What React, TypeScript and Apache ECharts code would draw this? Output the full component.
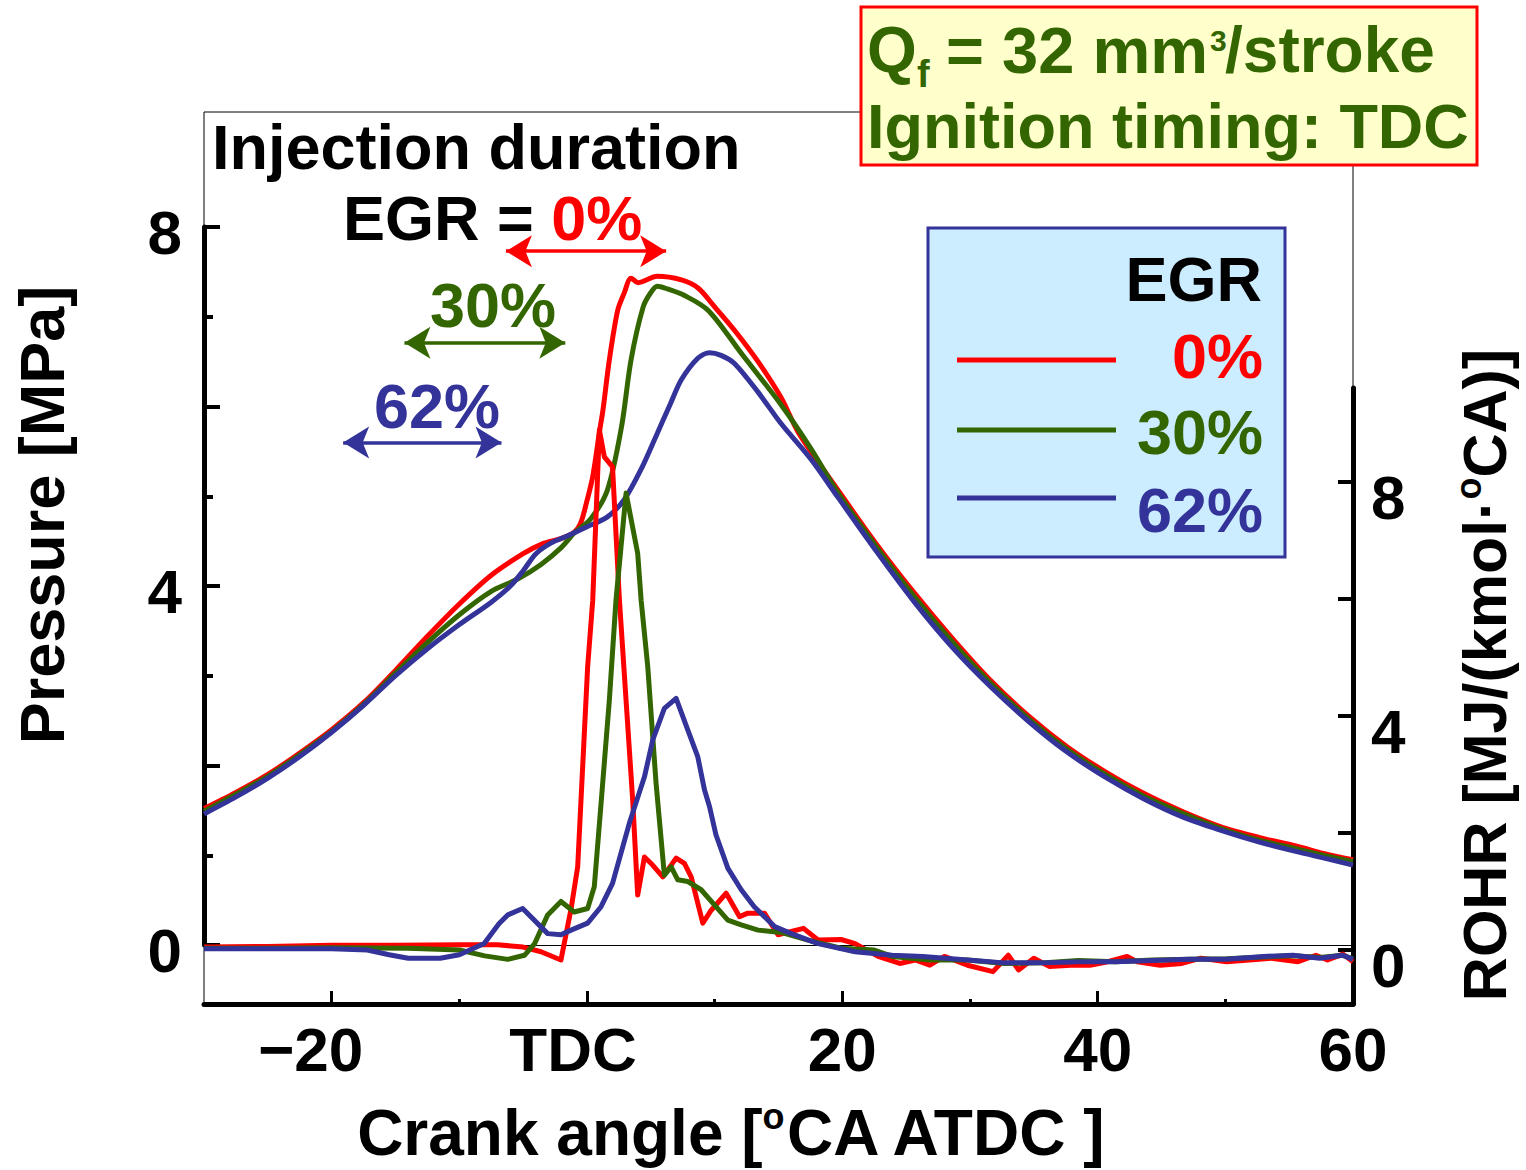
import React, { useEffect, useRef } from 'react';
import * as echarts from 'echarts';

// ---------- data ----------
const X_MIN = -30;
const X_MAX = 60;

// Cylinder pressure [MPa] vs crank angle [deg ATDC]
const pressure0: [number, number][] = [
  [-30, 1.52], [-27.5, 1.7], [-25, 1.9], [-22.5, 2.14], [-20, 2.4], [-17.5, 2.7], [-15, 3.06], [-12.5, 3.44],
  [-10, 3.8], [-7.5, 4.12], [-5, 4.36], [-3.5, 4.47], [-2, 4.53], [-1, 4.6], [-0.5, 4.7], [0, 4.95], [0.45, 5.22],
  [1.0, 5.74], [1.25, 5.96], [1.75, 6.52], [2.4, 7.07], [2.9, 7.26], [3.45, 7.43], [4.0, 7.38], [5.5, 7.45],
  [7.4, 7.41], [8.7, 7.32], [10.0, 7.11], [11.55, 6.85], [13.4, 6.5], [15.2, 6.1], [16.6, 5.7], [19.65, 5.07],
  [22.6, 4.48], [25.65, 3.92], [28.6, 3.42], [31.6, 2.95], [34.6, 2.55], [37.6, 2.21], [40.6, 1.93], [43.6, 1.69],
  [46.6, 1.49], [49.6, 1.32], [52.6, 1.2], [55.6, 1.1], [58, 1.01], [60, 0.95],
];
const pressure30: [number, number][] = [
  [-30, 1.49], [-27.5, 1.68], [-25, 1.88], [-22.5, 2.12], [-20, 2.38], [-17.5, 2.68], [-15, 3.03], [-12.5, 3.37],
  [-10, 3.68], [-7.5, 3.94], [-5.4, 4.08], [-3.6, 4.24], [-2, 4.43], [-1, 4.59], [0.3, 4.75], [1.6, 5.07],
  [2.7, 5.77], [3.45, 6.52], [4.4, 7.11], [5.0, 7.27], [5.5, 7.34], [6.3, 7.31], [7.6, 7.24], [9.5, 7.07],
  [12.1, 6.59], [15.2, 6.02], [17.5, 5.54], [19.65, 5.04], [22.6, 4.45], [25.65, 3.88], [28.6, 3.38], [31.6, 2.92],
  [34.6, 2.52], [37.6, 2.18], [40.6, 1.9], [43.6, 1.66], [46.6, 1.47], [49.6, 1.3], [52.6, 1.17], [55.6, 1.07],
  [58, 0.99], [60, 0.93],
];
const pressure62: [number, number][] = [
  [-30, 1.46], [-27.5, 1.65], [-25, 1.86], [-22.5, 2.1], [-20, 2.37], [-17.5, 2.67], [-15, 3.0], [-12.5, 3.3],
  [-10, 3.57], [-7.5, 3.82], [-6, 4.0], [-5, 4.17], [-4, 4.36], [-2.8, 4.48], [-1.5, 4.56], [0, 4.66], [1.6, 4.77],
  [2.9, 4.96], [4.2, 5.29], [5.5, 5.7], [6.5, 6.02], [7.4, 6.3], [8.7, 6.54], [9.6, 6.6], [10.5, 6.57],
  [11.55, 6.48], [13.4, 6.16], [15.2, 5.81], [17.5, 5.42], [19.65, 4.99], [22.6, 4.4], [25.65, 3.82], [28.6, 3.32],
  [31.6, 2.88], [34.6, 2.49], [37.6, 2.15], [40.6, 1.87], [43.6, 1.63], [46.6, 1.43], [49.6, 1.28], [52.6, 1.15],
  [55.6, 1.04], [58, 0.96], [60, 0.89],
];

// Rate of heat release [MJ/(kmol·°CA)]
const rohr0: [number, number][] = [
  [-30, 0.05], [-25, 0.06], [-20, 0.08], [-15, 0.08], [-10, 0.09], [-7, 0.09], [-5, 0.05], [-3.6, -0.03],
  [-2.04, -0.17], [-1.25, 0.7], [-0.73, 1.42], [-0.34, 3.13], [0.05, 4.84], [0.45, 5.98], [0.97, 8.89],
  [1.36, 8.43], [2.0, 8.26], [2.54, 5.98], [3.06, 4.27], [3.58, 2.56], [3.97, 0.94], [4.5, 1.59], [5.02, 1.48],
  [5.94, 1.25], [6.98, 1.57], [7.63, 1.48], [8.16, 1.25], [9.07, 0.46], [9.73, 0.68], [10.9, 0.97], [11.95, 0.57],
  [12.6, 0.63], [13.9, 0.63], [14.96, 0.26], [16.96, 0.37], [18.1, 0.17], [19.9, 0.18], [21.0, 0.11],
  [22.8, -0.11], [24.5, -0.23], [25.7, -0.17], [26.85, -0.26], [28.0, -0.11], [29.8, -0.26], [31.8, -0.37],
  [33.0, -0.09], [33.8, -0.34], [35.0, -0.14], [36.2, -0.28], [37.9, -0.26], [39.4, -0.26], [40.8, -0.2],
  [42.3, -0.11], [43.1, -0.2], [44.9, -0.26], [46.6, -0.23], [48.1, -0.14], [50.1, -0.2], [51.9, -0.17],
  [53.6, -0.14], [55.7, -0.2], [57.1, -0.09], [58.0, -0.17], [59.2, -0.07], [60, -0.2],
];
const rohr30: [number, number][] = [
  [-30, 0.03], [-25, 0.03], [-20, 0.04], [-14, 0.03], [-10, 0.0], [-8, -0.1], [-6.2, -0.16], [-4.9, -0.09],
  [-4.1, 0.11], [-3.08, 0.6], [-2.04, 0.83], [-1.0, 0.65], [0.05, 0.71], [0.57, 1.08], [1.1, 2.5], [1.75, 4.27],
  [2.27, 5.98], [3.06, 7.81], [3.97, 6.78], [4.24, 5.98], [4.76, 4.84], [5.41, 2.85], [6.06, 1.28], [6.59, 1.42],
  [7.11, 1.2], [7.9, 1.17], [8.94, 1.03], [9.86, 0.8], [11.03, 0.51], [12.08, 0.43], [13.4, 0.34], [15.2, 0.3],
  [17.3, 0.17], [19.9, 0.03], [22.5, 0.0], [23.9, -0.11], [26.85, -0.17], [29.8, -0.17], [32.7, -0.23],
  [35.6, -0.22], [38.5, -0.18], [41.4, -0.2], [44.3, -0.17], [47.2, -0.16], [50.1, -0.15], [53.0, -0.12],
  [55.3, -0.1], [57.4, -0.13], [59.2, -0.09], [60, -0.15],
];
const rohr62: [number, number][] = [
  [-30, 0.02], [-25, 0.02], [-20, 0.02], [-17.2, 0.0], [-15.5, -0.08], [-14, -0.14], [-11.5, -0.14], [-10, -0.08],
  [-8.05, 0.11], [-6.9, 0.45], [-6.2, 0.6], [-5.04, 0.71], [-3.08, 0.28], [-2.04, 0.26], [-1.25, 0.34],
  [0.05, 0.46], [1.1, 0.74], [2.0, 1.14], [3.32, 2.17], [4.5, 2.96], [5.15, 3.59], [6.06, 4.13], [6.98, 4.3],
  [7.9, 3.76], [8.68, 3.3], [9.2, 2.74], [9.6, 2.45], [10.1, 1.97], [11.03, 1.4], [12.08, 1.03], [13.1, 0.74],
  [14.7, 0.4], [16.0, 0.28], [18.1, 0.11], [21.0, -0.03], [23.9, -0.09], [26.3, -0.11], [29.8, -0.17],
  [32.7, -0.22], [35.6, -0.22], [38.5, -0.2], [41.4, -0.2], [44.3, -0.18], [47.2, -0.16], [50.1, -0.16],
  [53.0, -0.11], [55.3, -0.09], [57.4, -0.14], [59.2, -0.09], [60, -0.16],
];

const egrLabels = ['0%', '30%', '62%'];
// injection duration windows (deg) for each EGR rate
const injectionStart = [-6.35, -14.3, -19.1];
const injectionEnd = [6.2, -1.7, -6.7];

// tick values
const xMajorTicks = [-20, 0, 20, 40];
const xMinorTicks = [-10, 10, 30, 50];
const xLabelValues = [-20, 0, 20, 40, 60];
const pMajorTicks = [0, 2, 4, 6, 8];
const pMinorTicks = [1, 3, 5, 7];
const pLabelValues = [0, 4, 8];
const rTicks = [0, 2, 4, 6, 8];
const rLabelValues = [0, 4, 8];

// ---------- styles ----------
const COLORS = ['#FF0000', '#336600', '#333399'];
const FONT = "'Liberation Sans', Arial, Helvetica, sans-serif";
const ARROW_LEVELS = [7.73, 6.71, 5.6]; // MPa, annotation heights

const boldFont = (size: number) => `bold ${size}px ${FONT}`;

const txt = (x: number, y: number, text: string, size: number, fill: string, align: string, extra: any = {}, lineHeight?: number) => ({
  type: 'text',
  z: 101,
  style: {
    x, y, text, font: boldFont(size), fill,
    align, verticalAlign: 'middle', textAlign: align, textVerticalAlign: 'middle',
    ...(lineHeight ? { lineHeight } : {}),
  },
  ...extra,
});

export default function App() {
  const ref = useRef<HTMLDivElement>(null);

  useEffect(() => {
    if (!ref.current) return;
    const chart = echarts.init(ref.current, undefined, { renderer: 'svg' });

    const left = 204;
    const right = 1526 - 1353;
    const bottom = 1170 - 1004;

    const labelBase = { fontSize: 62, fontWeight: 'bold' as const, fontFamily: FONT, color: '#000' };

    const pressures = [pressure0, pressure30, pressure62];
    const rohrs = [rohr0, rohr30, rohr62];

    const pressureSeries = pressures.map((d, i) => ({
      type: 'line',
      name: 'P ' + egrLabels[i],
      xAxisIndex: 2,
      yAxisIndex: 0,
      data: d,
      showSymbol: false,
      smooth: 0.3,
      lineStyle: { color: COLORS[i], width: 5 },
      itemStyle: { color: COLORS[i] },
      emphasis: { disabled: true },
      z: 3,
      markLine: {
        silent: true,
        symbol: ['arrow', 'arrow'],
        symbolSize: [24, 26],
        label: { show: false },
        emphasis: { disabled: true },
        lineStyle: { color: COLORS[i], width: 3.5, type: 'solid' },
        data: [[{ coord: [injectionStart[i], ARROW_LEVELS[i]] }, { coord: [injectionEnd[i], ARROW_LEVELS[i]] }]],
      },
    }));

    const rohrSeries = rohrs.map((d, i) => ({
      type: 'line',
      name: 'ROHR ' + egrLabels[i],
      xAxisIndex: 3,
      yAxisIndex: 2,
      data: d,
      showSymbol: false,
      lineStyle: { color: COLORS[i], width: 5, join: 'round' },
      itemStyle: { color: COLORS[i] },
      emphasis: { disabled: true },
      z: 3,
    }));

    const legendYs = [360, 430, 498];
    const legendTextYs = [356, 432, 510];
    const GREEN = COLORS[1];

    const graphic: any[] = [
      // Condition box
      {
        type: 'rect', z: 100,
        shape: { x: 861, y: 7, width: 616, height: 158 },
        style: { fill: '#FFFFCC', stroke: '#FF0000', lineWidth: 3 },
      },
      txt(867, 50, 'Q', 64, GREEN, 'left'),
      txt(917, 74, 'f', 38, GREEN, 'left'),
      txt(946, 50, '= 32 mm', 65, GREEN, 'left'),
      txt(1210, 40, '3', 30, GREEN, 'left'),
      txt(1225, 50, '/stroke', 64, GREEN, 'left'),
      txt(867, 126, 'Ignition timing: TDC', 63, GREEN, 'left'),
      // Legend box
      {
        type: 'rect', z: 100,
        shape: { x: 928, y: 228, width: 357, height: 329 },
        style: { fill: '#CCECFF', stroke: '#333399', lineWidth: 3 },
      },
      txt(1262, 279, 'EGR', 63, '#000', 'right'),
      ...egrLabels.flatMap((lab, i) => [
        {
          type: 'line', z: 101,
          shape: { x1: 957, y1: legendYs[i], x2: 1116, y2: legendYs[i] },
          style: { stroke: COLORS[i], lineWidth: 5 },
        },
        txt(1263, legendTextYs[i], lab, 63, COLORS[i], 'right'),
      ]),
      // Injection duration annotation
      txt(212, 147, 'Injection duration', 63, '#000', 'left', {}, 62),
      {
        type: 'text', z: 101,
        style: {
          x: 343, y: 218, text: '{k|EGR = }{r|0%}',
          align: 'left', verticalAlign: 'middle', textAlign: 'left', textVerticalAlign: 'middle',
          rich: {
            k: { fontSize: 63, fontWeight: 'bold', fontFamily: FONT, fill: '#000', lineHeight: 62 },
            r: { fontSize: 63, fontWeight: 'bold', fontFamily: FONT, fill: COLORS[0], lineHeight: 62 },
          },
        },
      },
      txt(493, 305, '30%', 63, COLORS[1], 'center', {}, 60),
      txt(437, 406, '62%', 63, COLORS[2], 'center', {}, 60),
      // Axis titles
      txt(0, 0, 'Pressure [MPa]', 63, '#000', 'center', { x: 42, y: 515, rotation: Math.PI / 2 }),
      {
        type: 'text', z: 101, x: 1485, y: 675, rotation: Math.PI / 2,
        style: {
          x: 0, y: 0, text: '{m|ROHR [MJ/(kmol·}{s|o}{m|CA)]}',
          align: 'center', verticalAlign: 'middle', textAlign: 'center', textVerticalAlign: 'middle',
          rich: {
            m: { fontSize: 61, fontWeight: 'bold', fontFamily: FONT, fill: '#000', lineHeight: 70 },
            s: { fontSize: 36, fontWeight: 'bold', fontFamily: FONT, fill: '#000', lineHeight: 50, verticalAlign: 'top' },
          },
        },
      },
      {
        type: 'text', z: 101, x: 732, y: 1133,
        style: {
          x: 0, y: 0, text: '{m|Crank angle [}{s|o}{m|CA ATDC ]}',
          align: 'center', verticalAlign: 'middle', textAlign: 'center', textVerticalAlign: 'middle',
          rich: {
            m: { fontSize: 64, fontWeight: 'bold', fontFamily: FONT, fill: '#000', lineHeight: 70 },
            s: { fontSize: 36, fontWeight: 'bold', fontFamily: FONT, fill: '#000', lineHeight: 50, verticalAlign: 'top' },
          },
        },
      },
    ];

    const option: any = {
      animation: false,
      backgroundColor: '#ffffff',
      grid: [
        { left, right, top: 112, bottom, show: true, borderColor: '#000', borderWidth: 1, backgroundColor: 'transparent', containLabel: false },
        { left, right, top: 227, bottom: 1170 - 945, containLabel: false },
        { left, right, top: 388, bottom, containLabel: false },
      ],
      xAxis: [
        {
          gridIndex: 0, type: 'value', min: X_MIN, max: X_MAX, position: 'bottom',
          axisLine: { show: true, onZero: false, lineStyle: { color: '#000', width: 5 } },
          axisTick: { show: true, inside: true, length: 13, customValues: xMajorTicks, lineStyle: { color: '#000', width: 3 } },
          axisLabel: {
            show: true, ...labelBase, margin: 14, customValues: xLabelValues,
            formatter: (v: number) => (v === -20 ? '{a|\u221220}' : v === 0 ? '{b|TDC}' : String(v)),
            rich: {
              a: { ...labelBase, padding: [0, 42, 0, 0] },
              b: { ...labelBase, padding: [0, 28, 0, 0] },
            },
          },
          splitLine: { show: false },
        },
        {
          gridIndex: 0, type: 'value', min: X_MIN, max: X_MAX, position: 'bottom',
          axisLine: { show: false, onZero: false },
          axisTick: { show: true, inside: true, length: 5, customValues: xMinorTicks, lineStyle: { color: '#000', width: 3 } },
          axisLabel: { show: false },
          splitLine: { show: false },
        },
        {
          gridIndex: 1, type: 'value', min: X_MIN, max: X_MAX, position: 'bottom',
          axisLine: { show: true, onZero: false, lineStyle: { color: '#000', width: 1 } },
          axisTick: { show: false }, axisLabel: { show: false }, splitLine: { show: false },
        },
        {
          gridIndex: 2, type: 'value', min: X_MIN, max: X_MAX, show: false,
          axisLine: { onZero: false }, splitLine: { show: false },
        },
      ],
      yAxis: [
        {
          gridIndex: 1, type: 'value', min: 0, max: 8, position: 'left',
          axisLine: { show: true, onZero: false, lineStyle: { color: '#000', width: 5 } },
          axisTick: { show: true, inside: true, length: 16, customValues: pMajorTicks, lineStyle: { color: '#000', width: 4 } },
          axisLabel: {
            show: true, ...labelBase, margin: 22, customValues: pLabelValues,
            formatter: (v: number) => `{v|${v}}`,
            rich: { v: { ...labelBase, padding: [10, 0, 0, 0] } },
          },
          splitLine: { show: false },
        },
        {
          gridIndex: 1, type: 'value', min: 0, max: 8, position: 'left',
          axisLine: { show: false, onZero: false },
          axisTick: { show: true, inside: true, length: 9, customValues: pMinorTicks, lineStyle: { color: '#000', width: 4 } },
          axisLabel: { show: false }, splitLine: { show: false },
        },
        {
          gridIndex: 2, type: 'value', min: -0.923, max: 9.607, position: 'right',
          axisLine: { show: true, onZero: false, lineStyle: { color: '#000', width: 5 } },
          axisTick: { show: true, inside: true, length: 15, customValues: rTicks, lineStyle: { color: '#000', width: 4 } },
          axisLabel: {
            show: true, ...labelBase, margin: 18, customValues: rLabelValues,
            formatter: (v: number) => `{v|${v}}`,
            rich: { v: { ...labelBase, padding: [30, 0, 0, 0] } },
          },
          splitLine: { show: false },
        },
        {
          gridIndex: 0, type: 'value', min: 0, max: 1, show: false,
          axisLine: { onZero: false }, splitLine: { show: false },
        },
      ],
      series: [...pressureSeries, ...rohrSeries],
      graphic,
    };

    chart.setOption(option);
    return () => chart.dispose();
  }, []);

  return (
    <div
      ref={ref}
      style={{ position: 'fixed', left: 0, top: 0, width: 1526, height: 1170, background: '#fff' }}
    />
  );
}
